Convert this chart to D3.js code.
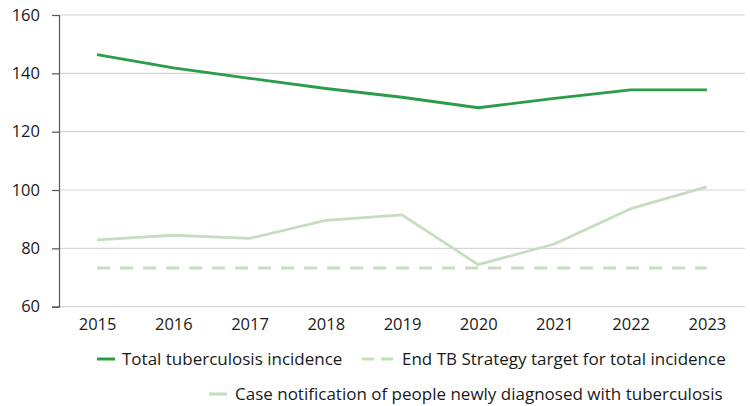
<!DOCTYPE html>
<html><head><meta charset="utf-8">
<script src="https://cdn.jsdelivr.net/npm/d3@7"></script>
<style>body{margin:0;background:#fff}svg{display:block}text{font-family:"Open Sans",sans-serif}</style>
</head><body><svg id="c" width="750" height="406"></svg>
<script>
const years = ["2015","2016","2017","2018","2019","2020","2021","2022","2023"];
const totalIncidence = [146.4, 141.9, 138.3, 134.8, 131.8, 128.2, 131.4, 134.3, 134.3];
const caseNotification = [82.9, 84.5, 83.4, 89.6, 91.5, 74.4, 81.5, 93.6, 101.1];
const targetValue = [73.3, 73.3, 73.3, 73.3, 73.3, 73.3, 73.3, 73.3, 73.3];
const yTicks = [60, 80, 100, 120, 140, 160];
const seriesNames = ["Total tuberculosis incidence", "End TB Strategy target for total incidence", "Case notification of people newly diagnosed with tuberculosis"];

const dark = "#2b9c47", light = "#c6ddc1";
const svg = d3.select("#c");
const x = d3.scalePoint().domain(years).range([59, 745]).padding(0.5);
const y = d3.scaleLinear().domain([60, 160]).range([306.7, 15]);

// gridlines
svg.append("g").selectAll("line").data(yTicks).join("line")
  .attr("x1", 59).attr("x2", 745).attr("y1", d => y(d)).attr("y2", d => y(d))
  .attr("stroke", "#d6d6d6").attr("stroke-width", 1.2);

// y axis
const ya = svg.append("g").attr("transform", "translate(59,0)")
  .call(d3.axisLeft(y).tickValues(yTicks).tickSize(7).tickPadding(12));
ya.select(".domain").attr("stroke", "#555").attr("stroke-width", 1.2);
ya.selectAll(".tick line").attr("stroke", "#555").attr("stroke-width", 1.2);
ya.selectAll("text").attr("font-size", 16.5).attr("fill", "#1a1a1a").attr("font-family", "Open Sans, sans-serif");

// x axis labels
const xa = svg.append("g").attr("transform", "translate(0,306.7)")
  .call(d3.axisBottom(x).tickSize(0).tickPadding(12));
xa.select(".domain").remove();
xa.selectAll("text").attr("font-size", 16.5).attr("fill", "#1a1a1a").attr("font-family", "Open Sans, sans-serif");

const line = d3.line().x((d, i) => x(years[i])).y(d => y(d));
svg.append("path").datum(targetValue).attr("d", line).attr("fill", "none")
  .attr("stroke", light).attr("stroke-width", 3).attr("stroke-dasharray", "13,10");
svg.append("path").datum(caseNotification).attr("d", line).attr("fill", "none")
  .attr("stroke", light).attr("stroke-width", 2.8).attr("stroke-linejoin", "round");
svg.append("path").datum(totalIncidence).attr("d", line).attr("fill", "none")
  .attr("stroke", dark).attr("stroke-width", 2.8).attr("stroke-linejoin", "round");

// legend
const leg = svg.append("g");
const items = [
  {name: seriesNames[0], color: dark, dash: null, lx: 97, tx: 122, yy: 359},
  {name: seriesNames[1], color: light, dash: "12,7", lx: 362, tx: 402, yy: 359},
  {name: seriesNames[2], color: light, dash: null, lx: 209, tx: 235, yy: 394}
];
items.forEach(it => {
  leg.append("line").attr("x1", it.lx).attr("x2", it.dash ? it.lx + 31 : it.lx + 18)
    .attr("y1", it.yy).attr("y2", it.yy).attr("stroke", it.color).attr("stroke-width", 3)
    .attr("stroke-dasharray", it.dash);
  leg.append("text").attr("x", it.tx).attr("y", it.yy).attr("dy", "0.35em")
    .attr("font-size", 17).attr("fill", "#1a1a1a").text(it.name);
});
</script></body></html>
